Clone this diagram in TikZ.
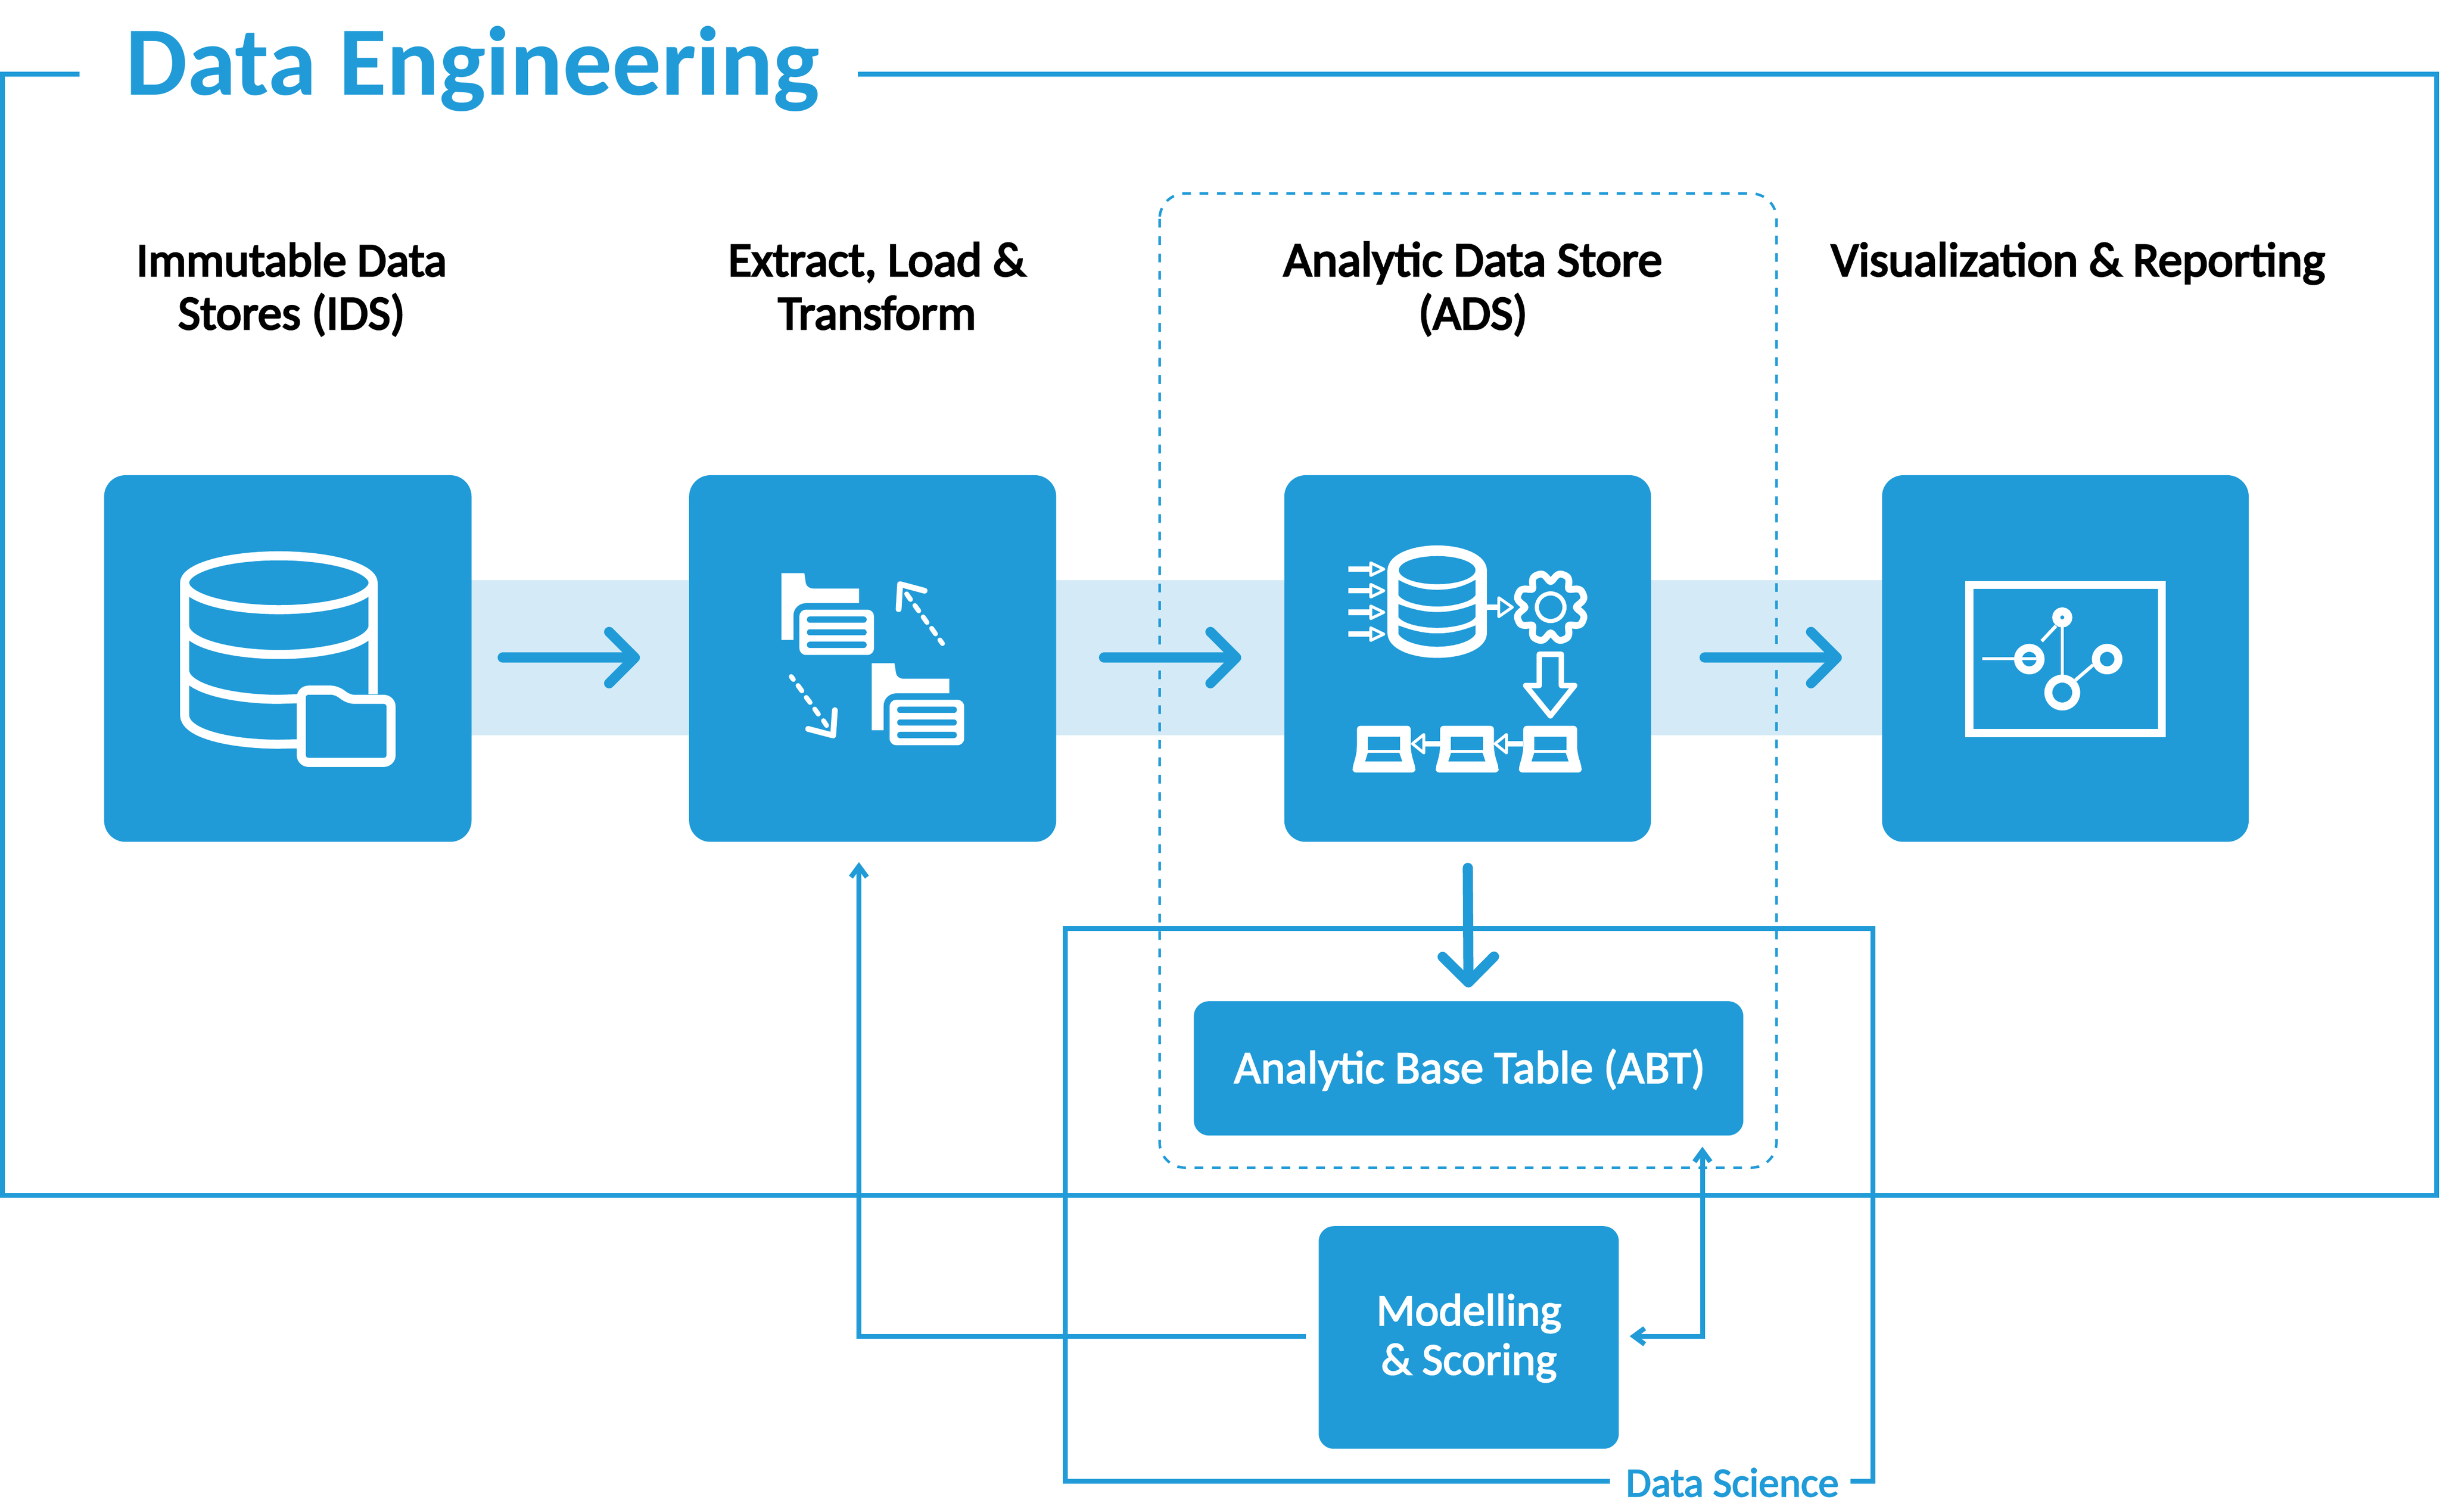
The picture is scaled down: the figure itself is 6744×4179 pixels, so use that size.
\documentclass[tikz,border=0pt]{standalone}
\usepackage{fontspec}
\setmainfont{Carlito}
\newfontfamily\medfont[FakeBold=2.5]{Carlito}
\newfontfamily\headfont[FakeBold=3.5]{Carlito}
\usetikzlibrary{arrows.meta}
\definecolor{dsblue}{HTML}{209BD8}
\definecolor{bandblue}{HTML}{D4EBF7}
\tikzset{
  x=0.01cm,y=-0.01cm,
  bluebox/.style={fill=dsblue,inner sep=0pt,outer sep=0pt,rounded corners=0.59cm,text=white},
  smallbox/.style={bluebox,rounded corners=0.42cm},
  frameline/.style={draw=dsblue,line width=0.135cm,line join=miter},
  dashframe/.style={draw=dsblue,line width=0.07cm,dash pattern=on 0.24cm off 0.24cm,rounded corners=0.7cm},
  bigarrow/.style={draw=dsblue,line width=0.28cm,line cap=round,-{Straight Barb[round,length=0.71cm,width=1.42cm]}},
  thinarrow/.style={draw=dsblue,line width=0.135cm},
  thinhead/.style={-{Straight Barb[length=0.30cm,width=0.44cm]}},
  bothhead/.style={{Straight Barb[length=0.30cm,width=0.44cm]}-{Straight Barb[length=0.30cm,width=0.44cm]}},
  heading/.style={font=\fontsize{38}{41.8}\headfont,align=center,text=black,inner sep=0pt},
  headingsm/.style={heading,font=\fontsize{37.3}{41.8}\headfont},
  headinglg/.style={heading,font=\fontsize{38.5}{41.8}\headfont},
  boxlabel/.style={font=\fontsize{36.4}{38.8}\medfont,align=center,text=white,inner sep=0pt},
  modlabel/.style={boxlabel,font=\fontsize{35.6}{38.8}\medfont},
  icon/.style={draw=white,line cap=butt},
}
\begin{document}
\begin{tikzpicture}
\useasboundingbox (0,0) rectangle (6744,4179);
\fill[white] (0,0) rectangle (6744,4179);
% band
\fill[bandblue] (1302,1604) rectangle (5202,2032);
% frames
\draw[frameline] (220,205) -- (6.5,205) -- (6.5,3304) -- (6735,3304) -- (6735,205) -- (2371,205);
\draw[dashframe] (3205,535) rectangle (4910,3228);
\draw[frameline] (4449,4095) -- (2944,4095) -- (2944,2567) -- (5176,2567) -- (5176,4095) -- (5115,4095);
% boxes
\node[bluebox,minimum width=10.15cm,minimum height=10.13cm] (ids) at (795.5,1820.5) {};
\node[bluebox,minimum width=10.14cm,minimum height=10.13cm] (elt) at (2412,1820.5) {};
\node[bluebox,minimum width=10.13cm,minimum height=10.13cm] (ads) at (4056.5,1820.5) {};
\node[bluebox,minimum width=10.13cm,minimum height=10.13cm] (vis) at (5708.5,1820.5) {};
\node[smallbox,minimum width=15.18cm,minimum height=3.71cm] (abt) at (4059,2953.5) {};
\node[smallbox,minimum width=8.29cm,minimum height=6.15cm] (mod) at (4059.5,3697.5) {};
% texts
\node[anchor=base west,inner sep=0pt,text=dsblue,font=\fontsize{77.1}{90}\selectfont\bfseries] (title) at (347,262) {Data Engineering};
\node[headingsm,anchor=base] (h1) at (806,763) {Immutable Data};
\node[heading,anchor=base] (h1b) at (806,910) {Stores (IDS)};
\node[heading,anchor=base] (h2) at (2424,763) {Extract, Load \&};
\node[heading,anchor=base] (h2b) at (2424,910) {Transform};
\node[headinglg,anchor=base] (h3) at (4071,763) {Analytic Data Store};
\node[heading,anchor=base] (h3b) at (4071,910) {(ADS)};
\node[heading,anchor=base] (h4) at (5744,763) {Visualization \& Reporting};
\node[boxlabel,anchor=base] (abtl) at (4062,2994) {Analytic Base Table (ABT)};
\node[modlabel,anchor=base] (modl) at (4060,3664) {Modelling};
\node[modlabel,anchor=base] (modlb) at (4060,3800) {\& Scoring};
\node[anchor=base,inner sep=0pt,text=dsblue,font=\fontsize{32.4}{34}\medfont] (dsl) at (4788,4137) {Data Science};
% connectors
\draw[bigarrow,shorten <=0.86cm,shorten >=1.36cm] ([yshift=0.025cm]ids.east) -- ([yshift=0.025cm]elt.west);
\draw[bigarrow,shorten <=1.32cm,shorten >=1.19cm] ([yshift=0.025cm]elt.east) -- ([yshift=0.025cm]ads.west);
\draw[bigarrow,shorten <=1.48cm,shorten >=1.11cm] ([yshift=0.025cm]ads.east) -- ([yshift=0.025cm]vis.west);
\draw[bigarrow,shorten <=0.72cm,shorten >=0.38cm] (ads.south) -- (abt.north);
\draw[thinarrow,thinhead] ([xshift=-0.36cm,yshift=0.035cm]mod.west) -| ([xshift=-0.38cm,yshift=-0.56cm]elt.south);
\draw[thinarrow,bothhead] ([xshift=0.30cm,yshift=0.035cm]mod.east) -| ([xshift=6.46cm,yshift=-0.31cm]abt.south);
% icon 1: database with folder
\begin{scope}[shift={(280,1300)},x=0.006378cm,y=-0.006696cm,icon,line width=0.25cm]
  \draw (769,464) ellipse [x radius=408,y radius=111];
  \draw (361,464) -- (361,1010) .. controls (361,1090) and (570,1130) .. (769,1130) -- (866,1128);
  \draw (1177,464) -- (1177,925);
  \draw (361,640) .. controls (361,715) and (570,760) .. (769,760) .. controls (970,760) and (1177,715) .. (1177,640);
  \draw (361,825) .. controls (361,900) and (570,945) .. (769,945) -- (866,942);
  \draw[fill=dsblue,rounded corners=0.2cm] (866,1205) -- (866,907) -- (1025,907) -- (1065,945) -- (1255,945) -- (1255,1205) -- cycle;
\end{scope}
% icon 2: folders exchanging
\begin{scope}[shift={(1900,1300)},x=0.006696cm,y=-0.006696cm]
  \foreach \d in {0,372}{
    \begin{scope}[shift={(\d,\d)}]
      \fill[white] (388,424) -- (482,424) -- (488,465) .. controls (492,480) and (503,488) .. (520,488) -- (708,488) -- (708,548) -- (490,548) .. controls (460,548) and (437,570) .. (437,600) -- (437,700) -- (388,700) -- cycle;
      \fill[white,rounded corners=0.18cm] (462,575) rectangle (769,762);
      \fill[dsblue,rounded corners=0.08cm] (493,603) rectangle (739,629);
      \fill[dsblue,rounded corners=0.08cm] (493,656) rectangle (739,681);
      \fill[dsblue,rounded corners=0.08cm] (493,707) rectangle (739,733);
    \end{scope}
  }
  \begin{scope}[line width=0.134cm,line cap=round]
    \draw[white] (1041,700) -- (1052,715);
    \draw[white] (1007,652) -- (1023,675);
    \draw[white] (972,605) -- (988,628);
    \draw[white] (938,558) -- (954,580);
    \draw[white] (904,510) -- (920,533);
    \draw[white] (428,851) -- (437,863);
    \draw[white] (456,888) -- (472,910);
    \draw[white] (490,937) -- (506,958);
    \draw[white] (525,985) -- (540,1006);
    \draw[white] (561,1033) -- (574,1053);
    \draw[white,line width=0.16cm,line join=round] (871,573) -- (877,470) -- (978,497);
    \draw[white,line width=0.16cm,line join=round] (498,1067) -- (601,1094) -- (608,990);
  \end{scope}
\end{scope}
% icon 3: pipeline
\begin{scope}[shift={(3550,1300)},x=0.006696cm,y=-0.006696cm]
  \foreach \y in {408,497,586,676}{
    \fill[white] (263,\y-11.5) rectangle (352,\y+11.5);
    \draw[white,fill=dsblue,line width=0.08cm,line join=round] (356,\y-26) -- (410,\y) -- (356,\y+26) -- cycle;
  }
  \fill[white] (425,415) .. controls (425,345) and (530,310) .. (630,310) .. controls (730,310) and (835,345) .. (835,415) -- (835,670) .. controls (835,740) and (730,774) .. (630,774) .. controls (530,774) and (425,740) .. (425,670) -- cycle;
  \fill[dsblue] (630,412) ellipse [x radius=158,y radius=58];
  \fill[dsblue] (470,452) .. controls (530,485) and (580,493) .. (630,493) .. controls (680,493) and (730,485) .. (788,452) -- (788,515) .. controls (770,545) and (690,562) .. (630,562) .. controls (570,562) and (490,545) .. (470,515) -- cycle;
  \fill[dsblue] (470,552) .. controls (530,575) and (580,585) .. (630,585) .. controls (680,585) and (730,575) .. (788,552) -- (788,605) .. controls (770,635) and (690,650) .. (630,650) .. controls (570,650) and (490,635) .. (470,605) -- cycle;
  \fill[dsblue] (470,640) .. controls (530,663) and (580,673) .. (630,673) .. controls (680,673) and (730,663) .. (788,640) -- (788,675) .. controls (770,710) and (690,728) .. (630,728) .. controls (570,728) and (490,710) .. (470,675) -- cycle;
  \fill[white] (835,553.5) rectangle (880,576.5);
  \draw[white,fill=dsblue,line width=0.08cm,line join=round] (884,526) -- (940,565) -- (884,604) -- cycle;
  \draw[white,line width=0.19cm,line join=round] plot[domain=0:357.5,samples=144] ({1098+(144-38*(0.5+0.5*cos(8*\x))^2)*cos(\x)},{565+(144-38*(0.5+0.5*cos(8*\x))^2)*sin(\x)}) -- cycle;
  \draw[white,line width=0.114cm] (1098,565) circle [radius=57];
  \draw[white,line width=0.15cm,line join=round] (1051,759) -- (1142,759) -- (1142,888) -- (1197,888) -- (1097,1013) -- (995,888) -- (1051,888) -- cycle;
  \foreach \d in {0,-343,-686}{
    \begin{scope}[shift={(\d,0)}]
      \fill[white,rounded corners=0.1cm] (985,1054) -- (1207,1054) -- (1207,1120) .. controls (1207,1165) and (1215,1190) .. (1226,1225) -- (1226,1247) -- (967,1247) -- (967,1225) .. controls (978,1190) and (985,1165) .. (985,1120) -- cycle;
      \fill[dsblue] (1030,1100) rectangle (1163,1154);
      \fill[dsblue] (1030,1166) -- (1160,1166) -- (1172,1201) -- (1019,1201) -- cycle;
    \end{scope}
  }
  \foreach \d in {0,-341}{
    \begin{scope}[shift={(\d,0)}]
      \fill[white] (920,1116.5) rectangle (985,1139.5);
      \draw[white,fill=dsblue,line width=0.08cm,line join=round] (916,1090) -- (869,1128) -- (916,1166) -- cycle;
    \end{scope}
  }
\end{scope}
% icon 4: graph on a screen
\begin{scope}[shift={(5200,1300)},x=0.006696cm,y=-0.006696cm]
  \draw[white,line width=0.22cm] (362.5,473.5) rectangle (1156.5,1084);
  \draw[white,line width=0.08cm] (415,778) -- (640,778);
  \draw[white,line width=0.094cm] (746,640) -- (746,850);
  \draw[white,line width=0.094cm] (661,705) -- (720,642);
  \draw[white,line width=0.094cm] (800,866) -- (873,803);
  \draw[white,line width=0.22cm] (610,779) circle [radius=46.5];
  \draw[white,line width=0.22cm] (931,779) circle [radius=46.5];
  \draw[white,line width=0.22cm] (746,917) circle [radius=57.5];
  \draw[white,line width=0.22cm] (746,607) circle [radius=25];
\end{scope}
\end{tikzpicture}
\end{document}
